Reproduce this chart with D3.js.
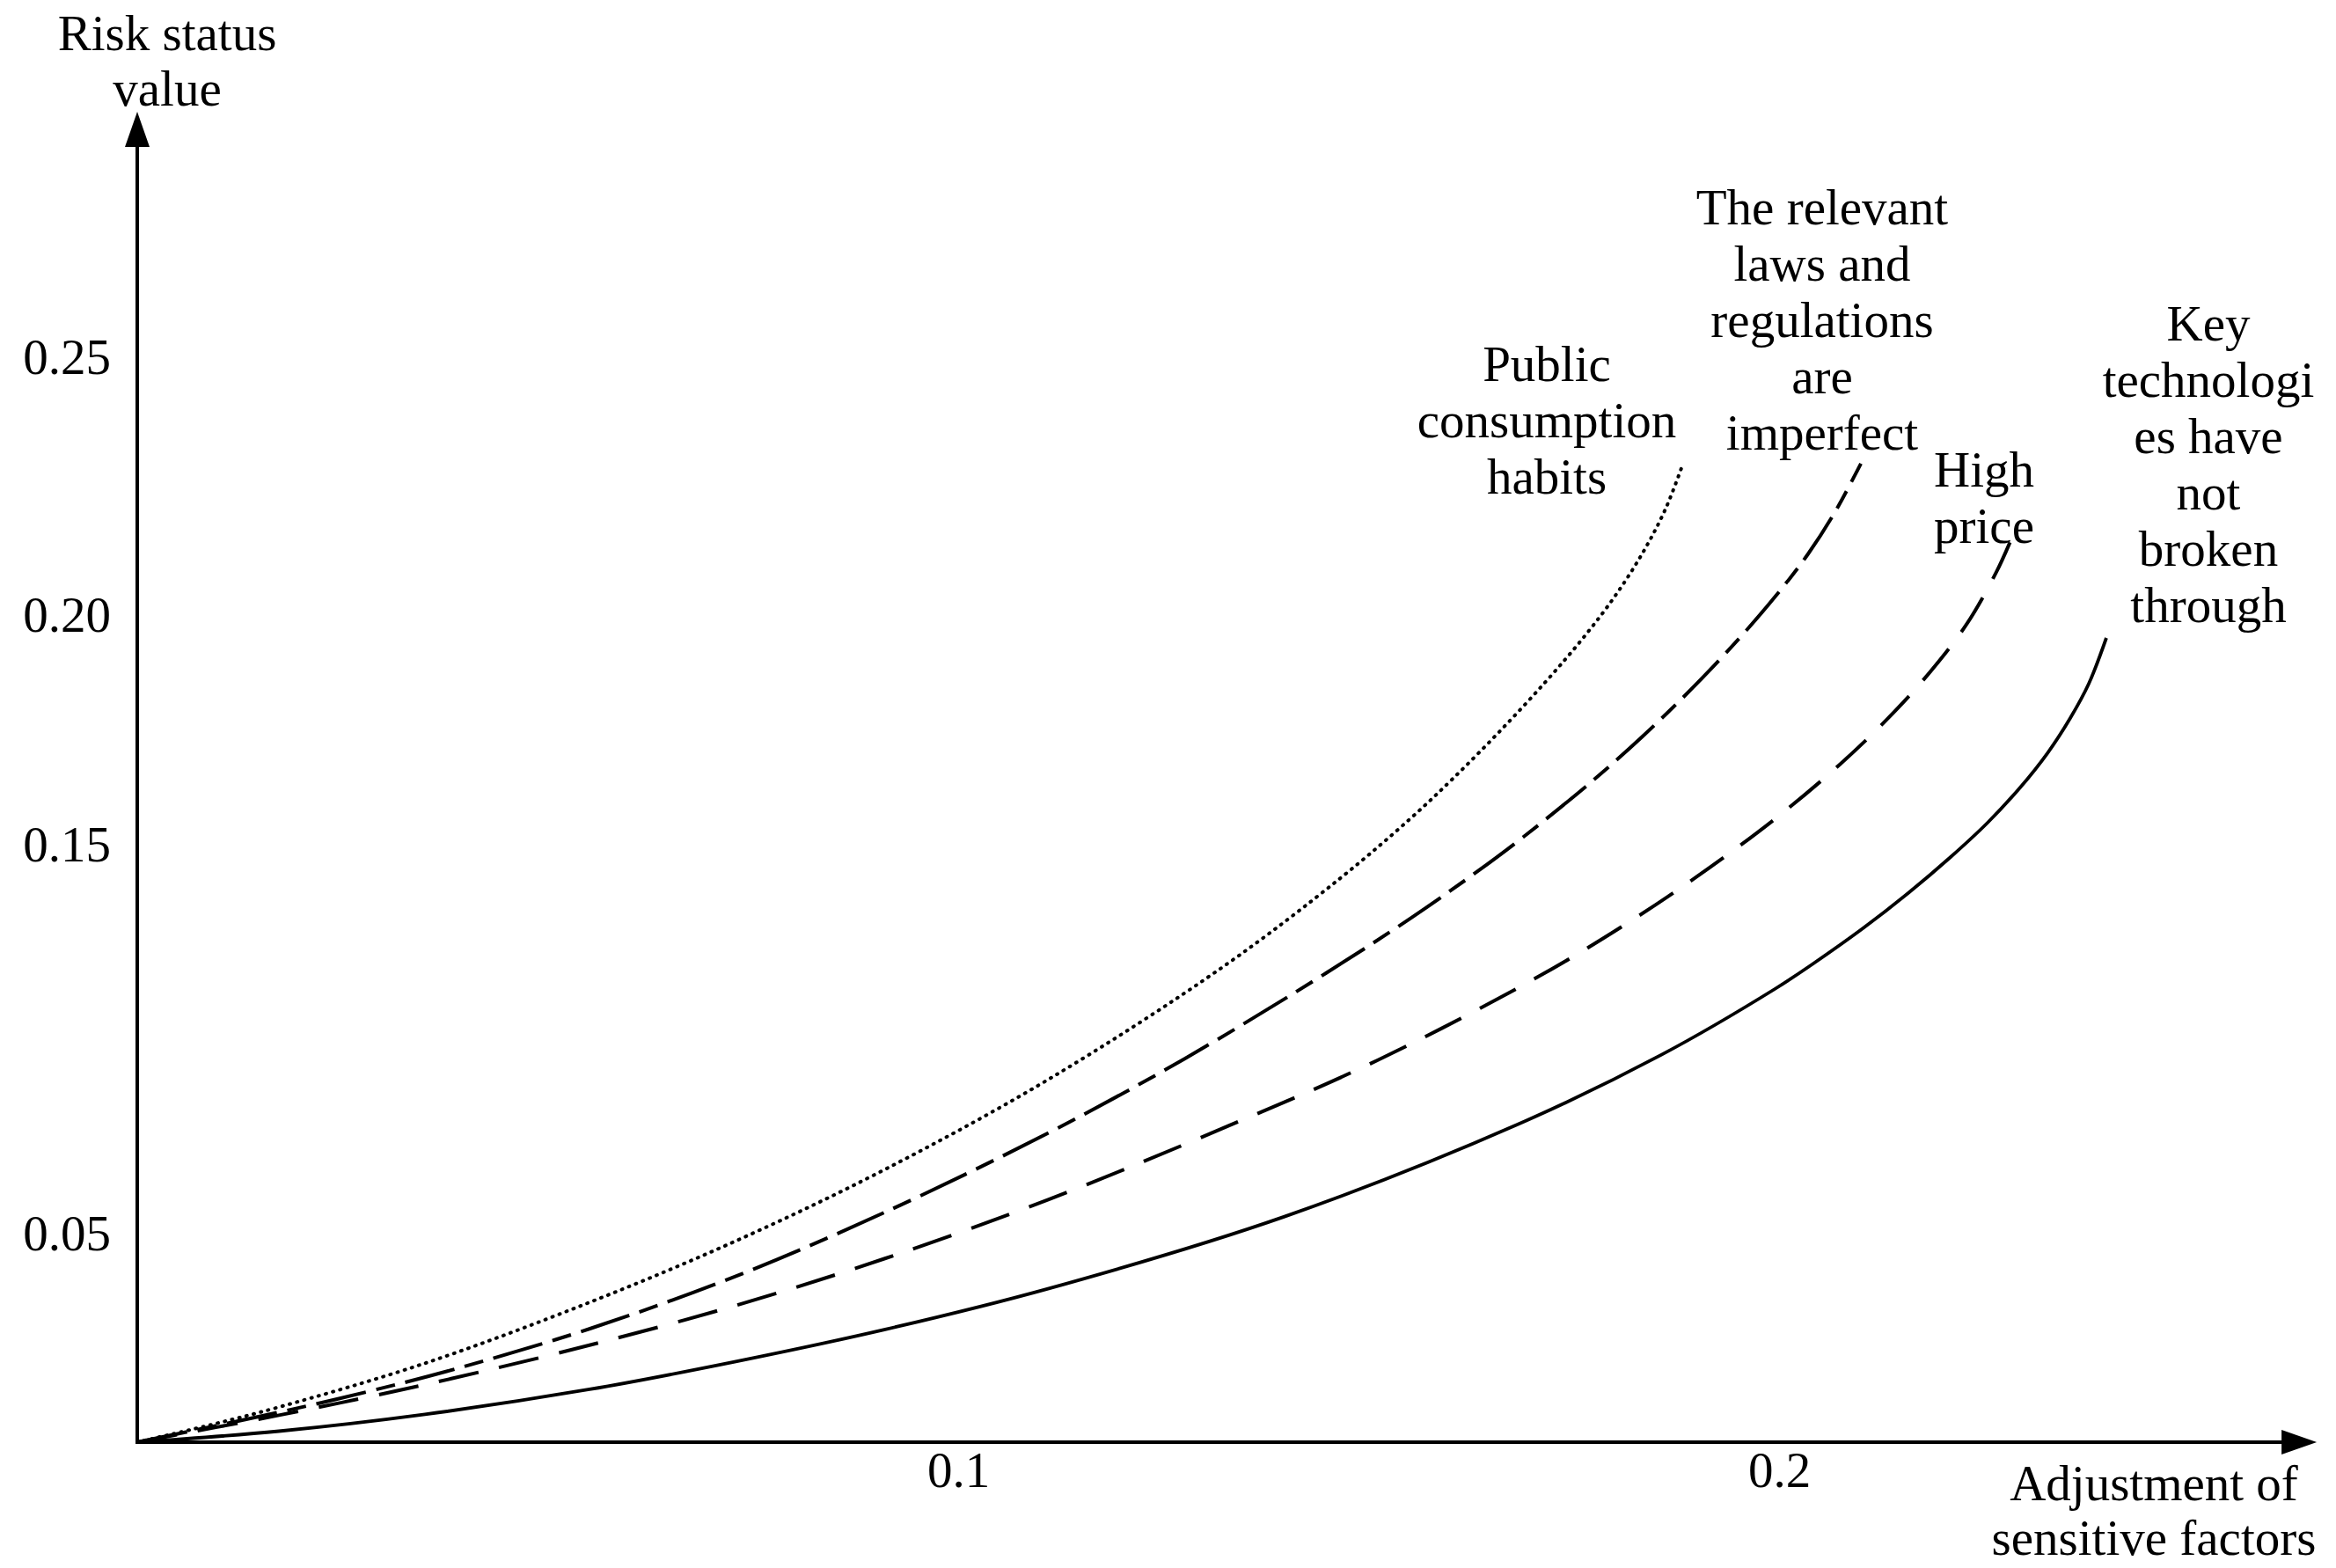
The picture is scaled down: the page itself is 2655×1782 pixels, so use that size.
<!DOCTYPE html>
<html>
<head>
<meta charset="utf-8">
<script src="https://cdn.jsdelivr.net/npm/d3@7"></script>
<style>
  body { margin: 0; background: #fff; }
  svg { display: block; }
</style>
</head>
<body>
<svg id="chart"></svg>
<script>
// series names, broken into lines the way the labels are drawn
const seriesLines = [
  ["Public", "consumption", "habits"],
  ["The relevant", "laws and", "regulations", "are", "imperfect"],
  ["High", "price"],
  ["Key", "technologi", "es have", "not", "broken", "through"]
];

// adjustment of sensitive factors (x) / risk status value (y)
const publicX = [0, 0.00825, 0.01726, 0.03505, 0.05509, 0.07320, 0.09100, 0.11104, 0.13226, 0.14641, 0.15509, 0.16034, 0.16602, 0.17160, 0.17610, 0.17996, 0.18339, 0.18617, 0.18832];
const publicY = [0, 0.00382, 0.00842, 0.01892, 0.03352, 0.04850, 0.06643, 0.08971, 0.11860, 0.14115, 0.15569, 0.16452, 0.17477, 0.18554, 0.19494, 0.20355, 0.21206, 0.22058, 0.22945];

const lawsX = [0, 0.01726, 0.02797, 0.03869, 0.05531, 0.07320, 0.09100, 0.11104, 0.12755, 0.14480, 0.15531, 0.16313, 0.16881, 0.17717, 0.18339, 0.18950, 0.19518, 0.19957, 0.20354, 0.20686, 0.20997];
const lawsY = [0, 0.00717, 0.01207, 0.01751, 0.02732, 0.04000, 0.05543, 0.07595, 0.09493, 0.11697, 0.13138, 0.14294, 0.15163, 0.16374, 0.17362, 0.18421, 0.19498, 0.20365, 0.21186, 0.22012, 0.22937];

const priceX = [0, 0.01726, 0.02797, 0.03826, 0.05509, 0.07320, 0.09100, 0.11104, 0.13301, 0.15113, 0.17074, 0.18114, 0.18981, 0.19957, 0.20750, 0.21308, 0.21811, 0.22283, 0.22647, 0.22819];
const priceY = [0, 0.00646, 0.01078, 0.01523, 0.02325, 0.03295, 0.04399, 0.05878, 0.07778, 0.09462, 0.11615, 0.12932, 0.14152, 0.15571, 0.16762, 0.17718, 0.18699, 0.19795, 0.20833, 0.21433];

const techX = [0, 0.01726, 0.03505, 0.05509, 0.07278, 0.09100, 0.11104, 0.13976, 0.16806, 0.18564, 0.19957, 0.20407, 0.21029, 0.21586, 0.22090, 0.22540, 0.22937, 0.23269, 0.23548, 0.23773, 0.23987];
const techY = [0, 0.00264, 0.00667, 0.01266, 0.01928, 0.02698, 0.03685, 0.05439, 0.07799, 0.09595, 0.11301, 0.11928, 0.12860, 0.13778, 0.14683, 0.15479, 0.16245, 0.16992, 0.17759, 0.18506, 0.19502];

const xTicks = [0.1, 0.2];
const yTicks = [0.05, 0.15, 0.20, 0.25];
const xTitle = ["Adjustment of", "sensitive factors"];
const yTitle = ["Risk status", "value"];

// where the axis arrows end (data units)
const xAxisEnd = 0.2655;
const yAxisEnd = 0.2976;

const width = 2655, height = 1782;
const font = "'Liberation Serif', 'Times New Roman', serif";
const fontSize = 57;
const lineGap = 64;

const svg = d3.select("#chart")
  .attr("width", width)
  .attr("height", height)
  .style("font-family", font);

svg.append("rect").attr("width", width).attr("height", height).attr("fill", "#fff");

// шкалы: y axis labels in the original are not evenly spaced, so piecewise
const xScale = d3.scaleLinear()
  .domain([0, 0.2])
  .range([156, 2022]);

const yScale = d3.scaleLinear()
  .domain([0, 0.05, 0.15, 0.20, 0.25, 0.30])
  .range([1639, 1402, 960, 699, 406, 113]);

// axes (no tick marks, only labels)
const xAxis = d3.axisBottom(xScale)
  .tickValues(xTicks)
  .tickFormat(d3.format(".1f"))
  .tickSize(0)
  .tickPadding(11);

const gx = svg.append("g")
  .attr("transform", `translate(0, ${yScale(0)})`)
  .call(xAxis);
gx.select(".domain").remove();
gx.selectAll("text")
  .attr("font-family", font)
  .attr("font-size", fontSize)
  .attr("fill", "#000");

const yAxis = d3.axisLeft(yScale)
  .tickValues(yTicks)
  .tickFormat(d3.format(".2f"))
  .tickSize(0)
  .tickPadding(30);

const gy = svg.append("g")
  .attr("transform", `translate(${xScale(0)}, 0)`)
  .call(yAxis);
gy.select(".domain").remove();
gy.selectAll("text")
  .attr("font-family", font)
  .attr("font-size", fontSize)
  .attr("fill", "#000");

// axis lines with arrow heads
const x0 = xScale(0), y0 = yScale(0);
const xe = xScale(xAxisEnd), ye = yScale(yAxisEnd);
const arrowLen = 40, arrowHalf = 14;

svg.append("line")
  .attr("x1", x0).attr("y1", y0)
  .attr("x2", xe - arrowLen + 2).attr("y2", y0)
  .attr("stroke", "#000").attr("stroke-width", 4);
svg.append("path")
  .attr("d", `M${xe},${y0} L${xe - arrowLen},${y0 - arrowHalf} L${xe - arrowLen},${y0 + arrowHalf} Z`)
  .attr("fill", "#000");

svg.append("line")
  .attr("x1", x0).attr("y1", y0 + 2)
  .attr("x2", x0).attr("y2", ye + arrowLen - 2)
  .attr("stroke", "#000").attr("stroke-width", 4);
svg.append("path")
  .attr("d", `M${x0},${ye} L${x0 - arrowHalf},${ye + arrowLen} L${x0 + arrowHalf},${ye + arrowLen} Z`)
  .attr("fill", "#000");

// axis titles
svg.append("text")
  .attr("x", 190).attr("y", 57)
  .attr("text-anchor", "middle")
  .attr("font-size", fontSize)
  .selectAll("tspan")
  .data(yTitle)
  .enter()
  .append("tspan")
  .attr("x", 190)
  .attr("dy", (d, i) => i === 0 ? 0 : 63)
  .text(d => d);

svg.append("text")
  .attr("x", 2448).attr("y", 1705)
  .attr("text-anchor", "middle")
  .attr("font-size", fontSize)
  .selectAll("tspan")
  .data(xTitle)
  .enter()
  .append("tspan")
  .attr("x", 2448)
  .attr("dy", (d, i) => i === 0 ? 0 : 62)
  .text(d => d);

// the four curves
const series = [
  { xs: publicX, ys: publicY, dash: "1 7.5", width: 4, cap: "round" },
  { xs: lawsX, ys: lawsY, dash: "58 12 22 12", width: 4, cap: "butt" },
  { xs: priceX, ys: priceY, dash: "46 24", width: 4, cap: "butt" },
  { xs: techX, ys: techY, dash: null, width: 3.8, cap: "butt" }
];

const line = d3.line()
  .x(d => xScale(d[0]))
  .y(d => yScale(d[1]))
  .curve(d3.curveCatmullRom.alpha(0.5));

svg.selectAll(".curve")
  .data(series)
  .enter()
  .append("path")
  .attr("class", "curve")
  .attr("d", s => line(d3.zip(s.xs, s.ys)))
  .attr("fill", "none")
  .attr("stroke", "#000")
  .attr("stroke-width", s => s.width)
  .attr("stroke-linecap", s => s.cap)
  .attr("stroke-dasharray", s => s.dash);

// curve labels, placed by hand like in the original
const labelPos = [
  { x: 1758, y: 433 },
  { x: 2071, y: 255 },
  { x: 2255, y: 553 },
  { x: 2510, y: 387 }
];

seriesLines.forEach((lines, k) => {
  svg.append("text")
    .attr("text-anchor", "middle")
    .attr("font-size", fontSize)
    .attr("y", labelPos[k].y)
    .selectAll("tspan")
    .data(lines)
    .enter()
    .append("tspan")
    .attr("x", labelPos[k].x)
    .attr("dy", (d, i) => i === 0 ? 0 : lineGap)
    .text(d => d);
});
</script>
</body>
</html>
